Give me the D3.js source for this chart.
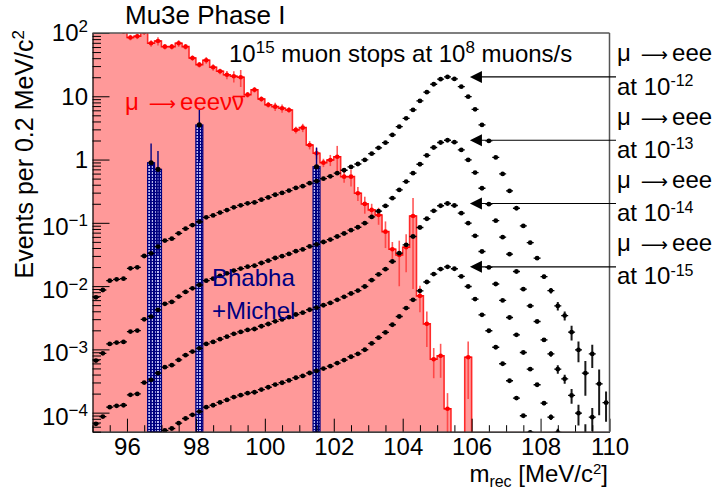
<!DOCTYPE html>
<html>
<head>
<meta charset="utf-8">
<script src="https://cdn.jsdelivr.net/npm/d3@7"></script>
<style>
  body { margin: 0; background: #fff; }
  svg { display: block; font-family: "Liberation Sans", Arial, sans-serif; }
</style>
</head>
<body>
<div id="chart"></div>
<script>
// ---- data (0.2 MeV bins from 95 to 110 MeV) ----
const binLow = d3.range(75).map(i => +(95 + i * 0.2).toFixed(1));

// mu -> eeevv background, events per bin
const background = [
  130, 125, 118, 112, 106,
  85, 89, 104, 68.7, 74.8,
  60.9, 60.9, 68.7, 60.9, 40.3,
  31.6, 37.1, 28.7, 24.8, 21.9,
  20.7, 20.0, 10.6, 12.7, 9.06,
  7.36, 6.86, 6.46, 6.08, 2.94,
  3.19, 1.70, 1.26, 0.894, 0.986,
  1.11, 0.537, 0.537, 0.294, 0.199,
  0.160, 0.133, 0.0726, 0.0383, 0.0311,
  0.0412, 0.128, 7.0e-3, 2.53e-3, 7.0e-4,
  7.9e-4, 1.15e-4, 0, 0, 7.5e-4,
  0, 0, 0, 0, 0,
  0, 0, 0, 0, 0,
  0, 0, 0, 0, 0,
  0, 0, 0, 0, 0
];
// relative errors of the background
const backgroundErr = [
  0.08, 0.08, 0.08, 0.08, 0.08,
  0.1, 0.1, 0.1, 0.12, 0.15,
  0.1, 0.1, 0.12, 0.1, 0.1,
  0.1, 0.12, 0.12, 0.1, 0.15,
  0.2, 0.3, 0.1, 0.1, 0.1,
  0.1, 0.15, 0.15, 0.1, 0.12,
  0.15, 0.15, 0.2, 0.15, 0.2,
  0.48, 0.2, 0.3, 0.25, 0.3,
  0.25, 0.3, 0.45, 0.3, 0.68,
  0.6, 0.93, 0.45, 0.57, 0.5,
  0.55, 0.77, 0, 0, 0.78,
  0, 0, 0, 0, 0,
  0, 0, 0, 0, 0,
  0, 0, 0, 0, 0,
  0, 0, 0, 0, 0
];

// Bhabha + Michel accidentals
const bhabhaBins = [96.6, 96.8, 98.0, 101.4];
const bhabhaValues = [0.89, 0.70, 3.52, 0.77];
const bhabhaErr = [0.9, 0.67, 2.6, 0.78];

// mu -> eee signal at BR = 1e-12
const signalE12 = [
  6.65e-3, 8.67e-3, 1.22e-2, 1.28e-2, 1.31e-2,
  1.91e-2, 1.98e-2, 2.99e-2, 3.30e-2, 4.21e-2,
  5.24e-2, 5.62e-2, 6.82e-2, 8.09e-2, 9.23e-2,
  0.104, 0.122, 0.131, 0.145, 0.159,
  0.176, 0.189, 0.203, 0.210, 0.232,
  0.252, 0.278, 0.297, 0.323, 0.356,
  0.380, 0.423, 0.456, 0.498, 0.543,
  0.608, 0.678, 0.764, 0.851, 0.986,
  1.24, 1.53, 1.85, 2.45, 3.31,
  4.49, 6.08, 8.43, 11.6, 15.5,
  18.6, 20.2, 18.8, 14.2, 9.86,
  6.23, 3.52, 1.97, 1.08, 0.593,
  0.319, 0.170, 0.0893, 0.0486, 0.0276,
  0.0141, 8.49e-3, 4.86e-3, 3.42e-3, 1.87e-3,
  9.82e-4, 4.21e-4, 8.49e-4, 2.85e-4, 1.44e-4
];
const signalRelErr = [
  0.02, 0.02, 0.02, 0.02, 0.02,
  0.02, 0.02, 0.02, 0.02, 0.02,
  0.02, 0.02, 0.02, 0.02, 0.02,
  0.02, 0.02, 0.02, 0.02, 0.02,
  0.02, 0.02, 0.02, 0.02, 0.02,
  0.02, 0.02, 0.02, 0.02, 0.02,
  0.02, 0.02, 0.02, 0.02, 0.02,
  0.02, 0.02, 0.02, 0.02, 0.02,
  0.02, 0.02, 0.02, 0.02, 0.02,
  0.02, 0.02, 0.02, 0.02, 0.02,
  0.02, 0.02, 0.02, 0.02, 0.02,
  0.02, 0.02, 0.02, 0.02, 0.02,
  0.03, 0.03, 0.03, 0.03, 0.05,
  0.07, 0.1, 0.15, 0.16, 0.26,
  0.36, 0.56, 0.4, 0.68, 0.5
];
const branchingExp = [-12, -13, -14, -15];

const xTicks = [96, 98, 100, 102, 104, 106, 108, 110];
const yTickExp = [2, 1, 0, -1, -2, -3, -4];

// ---- layout ----
const W = 716, H = 492;
const plot = { left: 92.5, right: 609.5, top: 33, bottom: 431.7 };
const RED = "#ff0000", NAVY = "#000080";

const svg = d3.select("#chart").append("svg").attr("width", W).attr("height", H);

const x = d3.scaleLinear().domain([95, 110]).range([plot.left, plot.right]);
const y = d3.scaleLog().domain([5e-5, 100]).range([plot.bottom, plot.top]);
const yv = v => y(Math.max(v, 1e-7));

const defs = svg.append("defs");
defs.append("clipPath").attr("id", "clip").append("rect")
  .attr("x", plot.left).attr("y", plot.top)
  .attr("width", plot.right - plot.left).attr("height", plot.bottom - plot.top);

const pat = defs.append("pattern").attr("id", "hatch")
  .attr("width", 3).attr("height", 3).attr("patternUnits", "userSpaceOnUse");
pat.append("rect").attr("width", 3).attr("height", 3).attr("fill", "#b8b8f0");
pat.append("rect").attr("width", 3).attr("height", 1).attr("fill", NAVY);
pat.append("rect").attr("width", 1).attr("height", 3).attr("fill", NAVY);

const g = svg.append("g").attr("clip-path", "url(#clip)");

// ---- background histogram ----
const histPts = binLow.map((lo, i) => [lo, background[i]]);
histPts.push([110, background[background.length - 1]]);

g.append("path")
  .attr("d", d3.area().curve(d3.curveStepAfter)
    .x(d => x(d[0])).y0(plot.bottom).y1(d => yv(d[1]))(histPts))
  .attr("fill", "#ff9999");

g.append("path")
  .attr("d", d3.line().curve(d3.curveStepAfter)
    .x(d => x(d[0])).y(d => yv(d[1]))(histPts))
  .attr("fill", "none").attr("stroke", "#ff2a2a").attr("stroke-width", 1.6);

const bgPts = binLow.map((lo, i) => ({ c: lo + 0.1, v: background[i], e: backgroundErr[i] }))
  .filter(d => d.v > 0);

g.selectAll(".bgErr").data(bgPts).enter().append("line")
  .attr("x1", d => x(d.c)).attr("x2", d => x(d.c))
  .attr("y1", d => yv(d.v * (1 + d.e))).attr("y2", d => yv(d.v * (1 - d.e)))
  .attr("stroke", "#ff3b3b").attr("stroke-width", 1.6).attr("opacity", 0.85);
g.selectAll(".bgBar").data(bgPts).enter().append("line")
  .attr("x1", d => x(d.c) - 3.4).attr("x2", d => x(d.c) + 3.4)
  .attr("y1", d => yv(d.v)).attr("y2", d => yv(d.v))
  .attr("stroke", RED).attr("stroke-width", 1.4);
g.selectAll(".bgDot").data(bgPts).enter().append("circle")
  .attr("cx", d => x(d.c)).attr("cy", d => yv(d.v)).attr("r", 2.3)
  .attr("fill", RED);

// ---- Bhabha + Michel ----
const bhPts = bhabhaBins.map((lo, i) => ({ lo: lo, v: bhabhaValues[i], e: bhabhaErr[i] }));
g.selectAll(".bh").data(bhPts).enter().append("rect")
  .attr("x", d => x(d.lo)).attr("width", d => x(d.lo + 0.2) - x(d.lo))
  .attr("y", d => y(d.v)).attr("height", d => plot.bottom - y(d.v))
  .attr("fill", "url(#hatch)").attr("stroke", NAVY).attr("stroke-width", 1.3);
g.selectAll(".bhErr").data(bhPts).enter().append("line")
  .attr("x1", d => x(d.lo + 0.1)).attr("x2", d => x(d.lo + 0.1))
  .attr("y1", d => yv(d.v + d.e)).attr("y2", d => yv(d.v - d.e))
  .attr("stroke", NAVY).attr("stroke-width", 1.4);
g.selectAll(".bhDot").data(bhPts).enter().append("circle")
  .attr("cx", d => x(d.lo + 0.1)).attr("cy", d => y(d.v)).attr("r", 2.6)
  .attr("fill", "#000");

// ---- signal curves ----
const series = branchingExp.map(ex => {
  const scale = Math.pow(10, ex + 12);
  return binLow.map((lo, i) => ({ c: lo + 0.1, v: signalE12[i] * scale, e: signalRelErr[i] }));
});

series.forEach(pts => {
  const s = g.append("g");
  s.selectAll("line.err").data(pts).enter().append("line")
    .attr("x1", d => x(d.c)).attr("x2", d => x(d.c))
    .attr("y1", d => yv(d.v * (1 + d.e))).attr("y2", d => yv(d.v * (1 - d.e)))
    .attr("stroke", "#1a1a1a").attr("stroke-width", 2);
  s.selectAll("line.bar").data(pts).enter().append("line")
    .attr("x1", d => x(d.c) - 3.5).attr("x2", d => x(d.c) + 3.5)
    .attr("y1", d => yv(d.v)).attr("y2", d => yv(d.v))
    .attr("stroke", "#000").attr("stroke-width", 1.3);
  s.selectAll("circle").data(pts).enter().append("circle")
    .attr("cx", d => x(d.c)).attr("cy", d => yv(d.v)).attr("r", 2.4)
    .attr("fill", "#000");
});

// ---- axes ----
const font = "'Liberation Sans', Arial, sans-serif";
const xMinor = d3.range(95, 110.01, 0.5).filter(v => !xTicks.includes(v));

svg.append("g").attr("transform", `translate(0,${plot.bottom})`)
  .call(d3.axisBottom(x).tickValues(xMinor).tickSize(-6.5).tickSizeOuter(0).tickFormat(""))
  .call(a => a.select(".domain").remove());
const xAx = svg.append("g").attr("transform", `translate(0,${plot.bottom})`)
  .call(d3.axisBottom(x).tickValues(xTicks).tickSize(-13).tickSizeOuter(0)
    .tickPadding(6.5).tickFormat(d3.format("d")));
xAx.attr("font-size", 24).attr("font-family", font);
xAx.selectAll("text").attr("fill", "#000");
xAx.select(".domain").attr("stroke-width", 1.2);

const yMinor = [];
[-5, -4, -3, -2, -1, 0, 1].forEach(ex => {
  for (let k = 2; k <= 9; k++) {
    const v = k * Math.pow(10, ex);
    if (v >= 5e-5 && v <= 100) yMinor.push(v);
  }
});
svg.append("g").attr("transform", `translate(${plot.left},0)`)
  .call(d3.axisLeft(y).tickValues(yMinor).tickSize(-8.5).tickSizeOuter(0).tickFormat(""))
  .call(a => a.select(".domain").remove());
const yAx = svg.append("g").attr("transform", `translate(${plot.left},0)`)
  .call(d3.axisLeft(y).tickValues(yTickExp.map(e => Math.pow(10, e)))
    .tickSize(-17).tickSizeOuter(0).tickFormat(""));
yAx.select(".domain").attr("stroke-width", 1.2);

// frame top / right
svg.append("line").attr("x1", plot.left).attr("x2", plot.right)
  .attr("y1", plot.top).attr("y2", plot.top).attr("stroke", "#555").attr("stroke-width", 1.5);
svg.append("line").attr("x1", plot.right).attr("x2", plot.right)
  .attr("y1", plot.top).attr("y2", plot.bottom).attr("stroke", "#555").attr("stroke-width", 1.5);

// y tick labels (powers of ten)
const yLab = svg.append("g").attr("font-size", 24).attr("text-anchor", "end");
yTickExp.forEach(ex => {
  const off = ex < 0 ? 12 : (ex === 2 ? 7.5 : 8.5);
  const t = yLab.append("text").attr("x", 88).attr("y", y(Math.pow(10, ex)) + off);
  if (ex === 0) t.text("1");
  else if (ex === 1) t.text("10");
  else {
    t.append("tspan").text("10");
    t.append("tspan").attr("dy", -8.5).attr("font-size", 17)
      .text(ex < 0 ? "\u2212" + (-ex) : String(ex));
  }
});

// axis titles
const xt = svg.append("text").attr("x", 608).attr("y", 481.5)
  .attr("text-anchor", "end").attr("font-size", 24);
xt.append("tspan").text("m");
xt.append("tspan").attr("dy", 5).attr("font-size", 16).text("rec");
xt.append("tspan").attr("dy", -5).text(" [MeV/c");
xt.append("tspan").attr("dy", -8).attr("font-size", 15).text("2");
xt.append("tspan").attr("dy", 8).text("]");

const yt = svg.append("text").attr("transform", "translate(33,30) rotate(-90)")
  .attr("text-anchor", "end").attr("font-size", 25);
yt.append("tspan").text("Events per 0.2 MeV/c");
yt.append("tspan").attr("dy", -9).attr("font-size", 17).text("2");

// titles
svg.append("text").attr("x", 125).attr("y", 23.5).attr("font-size", 26).text("Mu3e Phase I");

const tt = svg.append("text").attr("x", 229).attr("y", 61.7).attr("font-size", 24);
tt.append("tspan").text("10");
tt.append("tspan").attr("dy", -8.5).attr("font-size", 17).text("15");
tt.append("tspan").attr("dy", 8.5).text(" muon stops at 10");
tt.append("tspan").attr("dy", -8.5).attr("font-size", 17).text("8");
tt.append("tspan").attr("dy", 8.5).text(" muons/s");

// "mu -> ..." label built from tspans, with a long arrow glyph
function decayLabel(t, products) {
  t.append("tspan").text("\u03BC");
  t.append("tspan").attr("font-family", "'DejaVu Sans', sans-serif").attr("font-size", 19)
    .attr("dx", 10).text("\u27F6");
  t.append("tspan").attr("dx", 4).text(products);
}

// in-plot labels
const bgLab = svg.append("text").attr("x", 125).attr("y", 110).attr("font-size", 24).attr("fill", RED);
decayLabel(bgLab, "eee\u03BD\u03BD");
const lastChar = bgLab.node().getNumberOfChars() - 1;
const nuStart = bgLab.node().getStartPositionOfChar(lastChar);
const nuEnd = bgLab.node().getEndPositionOfChar(lastChar);
svg.append("line").attr("x1", nuStart.x + 0.5).attr("x2", nuEnd.x + 1)
  .attr("y1", 96.5).attr("y2", 96.5).attr("stroke", RED).attr("stroke-width", 1.6);

svg.append("text").attr("x", 212).attr("y", 286).attr("font-size", 24).attr("fill", NAVY).text("Bhabha");
svg.append("text").attr("x", 212).attr("y", 318.5).attr("font-size", 24).attr("fill", NAVY).text("+Michel");

// signal annotations with arrows
const tipX = x(105.95);
series.forEach((pts, k) => {
  const yA = y(d3.max(pts, d => d.v));
  svg.append("line").attr("x1", tipX + 10).attr("x2", 616).attr("y1", yA).attr("y2", yA)
    .attr("stroke", "#000").attr("stroke-width", 1.2);
  svg.append("path")
    .attr("d", `M${tipX},${yA}L${tipX + 12},${yA - 6}L${tipX + 12},${yA + 6}Z`)
    .attr("fill", "#000");
  const m = svg.append("text").attr("x", 617).attr("y", yA - 15.5).attr("font-size", 24);
  decayLabel(m, "eee");
  const t = svg.append("text").attr("x", 617).attr("y", yA + 17.7).attr("font-size", 24);
  t.append("tspan").text("at 10");
  t.append("tspan").attr("dy", -8.5).attr("font-size", 16).text(String(branchingExp[k]));
});
</script>
</body>
</html>
